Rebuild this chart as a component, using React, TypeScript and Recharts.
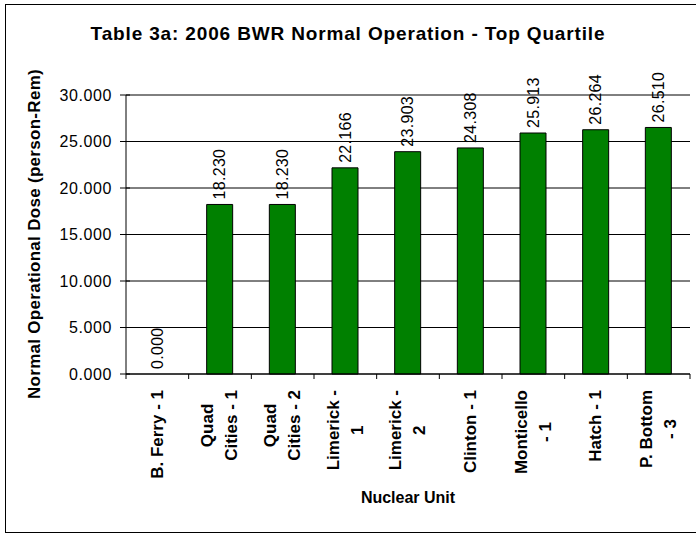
import React from 'react';
import { ComposedChart, Bar, Line, XAxis, YAxis, CartesianGrid, ReferenceLine, LabelList } from 'recharts';

// chart values
const UNITS = [
  'B. Ferry - 1', 'Quad Cities - 1', 'Quad Cities - 2', 'Limerick - 1', 'Limerick - 2',
  'Clinton - 1', 'Monticello - 1', 'Hatch - 1', 'P. Bottom - 3',
];
// how Excel wrapped each category label
const UNIT_LINES = [
  ['B. Ferry - 1'], ['Quad', 'Cities - 1'], ['Quad', 'Cities - 2'], ['Limerick -', '1'],
  ['Limerick -', '2'], ['Clinton - 1'], ['Monticello', '- 1'], ['Hatch - 1'], ['P. Bottom', '- 3'],
];
const DOSE = [0.0, 18.23, 18.23, 22.166, 23.903, 24.308, 25.913, 26.264, 26.51];
const Y_TICKS = [0, 5, 10, 15, 20, 25, 30];

const TITLE = 'Table 3a: 2006 BWR Normal Operation - Top Quartile';
const Y_TITLE = 'Normal Operational Dose (person-Rem)';
const X_TITLE = 'Nuclear Unit';

const W = 696;
const H = 534;
const PLOT_LEFT = 126;
const PLOT_RIGHT = 690;
const PLOT_TOP = 95;
const PLOT_BOTTOM = 374;
const FONT = '"Liberation Sans", Arial, Helvetica, sans-serif';
const GREEN = '#008000';

const data = UNITS.map((name, i) => ({ name, dose: DOSE[i] }));
const halfBand = (PLOT_RIGHT - PLOT_LEFT) / UNITS.length / 2;

let ctx: CanvasRenderingContext2D | null = null;
const measure = (s: string, font: string) => {
  if (!ctx) ctx = document.createElement('canvas').getContext('2d');
  if (!ctx) return s.length * 8;
  ctx.font = font;
  return ctx.measureText(s).width;
};

const X_FONT_SIZE = 17;
const X_LINE = 24;

const XTick = (props: any) => {
  const { x, y, index } = props;
  const lines = UNIT_LINES[index] || [String(props.payload?.value)];
  const longest = Math.max(...lines.map(l => measure(l, `bold ${X_FONT_SIZE}px ${FONT}`)));
  const cy = y + 16 + longest / 2;
  return (
    <g>
      <line x1={x - halfBand} y1={y} x2={x - halfBand} y2={y + 5} stroke="#000" />
      {index === UNITS.length - 1 && (
        <line x1={x + halfBand} y1={y} x2={x + halfBand} y2={y + 5} stroke="#000" />
      )}
      {lines.map((l, i) => {
        const cx = x + (i - (lines.length - 1) / 2) * X_LINE;
        return (
          <text
            key={i}
            x={cx}
            y={cy}
            transform={`rotate(-90, ${cx}, ${cy})`}
            textAnchor="middle"
            dominantBaseline="central"
            fontFamily={FONT}
            fontWeight="bold"
            fontSize={X_FONT_SIZE}
            fill="#000"
          >
            {l}
          </text>
        );
      })}
    </g>
  );
};

const YTick = (props: any) => {
  const { x, y, payload } = props;
  return (
    <g>
      <line x1={x - 6} y1={y} x2={x + 4} y2={y} stroke="#000" />
      <text
        x={x - 14}
        y={y}
        textAnchor="end"
        dominantBaseline="central"
        fontFamily={FONT}
        fontSize={16}
        letterSpacing={0.6}
        fill="#000"
      >
        {Number(payload.value).toFixed(3)}
      </text>
    </g>
  );
};

// value labels hang off the (invisible) line points so that the 0.000 bar gets one too
const ValueLabel = (props: any) => {
  const { x, y, value } = props;
  const cx = x;
  const cy = y - 5;
  return (
    <text
      x={cx}
      y={cy}
      transform={`rotate(-90, ${cx}, ${cy})`}
      textAnchor="start"
      dominantBaseline="central"
      fontFamily={FONT}
      fontSize={16}
      letterSpacing={0.3}
      fill="#000"
    >
      {Number(value).toFixed(3)}
    </text>
  );
};

export default function App() {
  return (
    <div style={{ position: 'absolute', left: 0, top: 0, width: W, height: H, background: '#fff', overflow: 'hidden' }}>
      <ComposedChart
        width={W}
        height={H}
        data={data}
        margin={{ top: PLOT_TOP, right: W - PLOT_RIGHT, bottom: 0, left: 0 }}
      >
        <CartesianGrid horizontal vertical={false} stroke="#000" yAxisId="left" />
        <XAxis
          dataKey="name"
          height={H - PLOT_BOTTOM}
          interval={0}
          tickSize={0}
          tickMargin={0}
          tickLine={false}
          axisLine={{ stroke: '#000' }}
          tick={<XTick />}
        />
        <YAxis
          yAxisId="left"
          width={PLOT_LEFT}
          domain={[0, 30]}
          ticks={Y_TICKS}
          interval={0}
          tickSize={0}
          tickMargin={0}
          tickLine={false}
          axisLine={{ stroke: '#000' }}
          tick={<YTick />}
        />
        <YAxis
          yAxisId="right"
          orientation="right"
          width={0}
          domain={[0, 30]}
          tick={false}
          tickLine={false}
          axisLine={{ stroke: '#808080' }}
        />
        <ReferenceLine yAxisId="left" y={30} stroke="#808080" />
        <Bar
          yAxisId="left"
          dataKey="dose"
          fill={GREEN}
          stroke="#000"
          strokeWidth={1}
          barSize={26}
          isAnimationActive={false}
        />
        <Line
          yAxisId="left"
          dataKey="dose"
          stroke="none"
          dot={false}
          activeDot={false}
          isAnimationActive={false}
        >
          <LabelList dataKey="dose" content={<ValueLabel />} />
        </Line>
      </ComposedChart>
      <svg
        width={W}
        height={H}
        style={{ position: 'absolute', left: 0, top: 0, pointerEvents: 'none' }}
      >
        <rect x={5.5} y={4.5} width={W} height={528} fill="none" stroke="#000" />
        <text
          x={W / 2}
          y={40}
          textAnchor="middle"
          fontFamily={FONT}
          fontWeight="bold"
          fontSize={19}
          letterSpacing={0.85}
          fill="#000"
        >
          {TITLE}
        </text>
        <text
          x={40}
          y={234}
          transform="rotate(-90, 40, 234)"
          textAnchor="middle"
          fontFamily={FONT}
          fontWeight="bold"
          fontSize={17}
          letterSpacing={0.3}
          fill="#000"
        >
          {Y_TITLE}
        </text>
        <text
          x={(PLOT_LEFT + PLOT_RIGHT) / 2}
          y={503}
          textAnchor="middle"
          fontFamily={FONT}
          fontWeight="bold"
          fontSize={16}
          fill="#000"
        >
          {X_TITLE}
        </text>
      </svg>
    </div>
  );
}
